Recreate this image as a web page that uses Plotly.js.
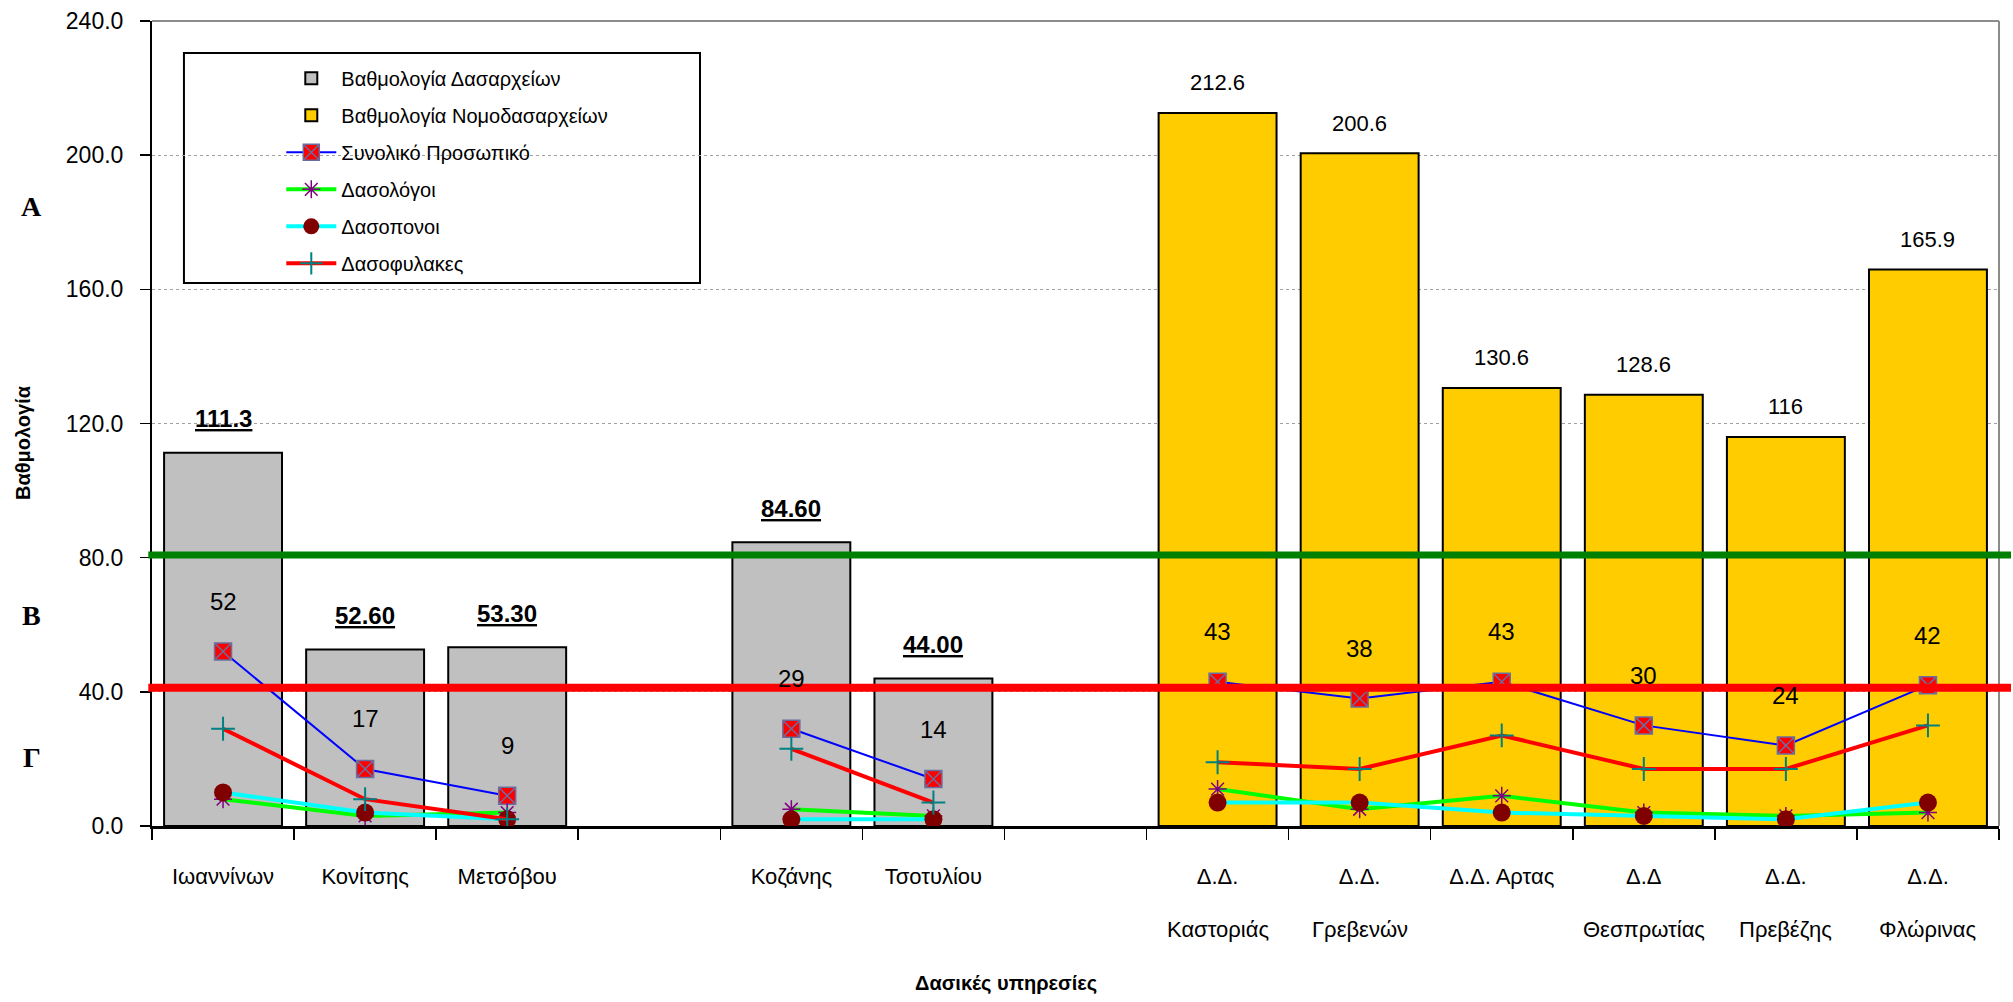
<!DOCTYPE html>
<html>
<head>
<meta charset="utf-8">
<script src="https://cdn.plot.ly/plotly-3.0.1.min.js"></script>
<style>html,body{margin:0;padding:0;background:#fff;}#chart{width:2013px;height:1002px;}</style>
</head>
<body>
<div id="chart"></div>
<script>
// ---- data ----
var categories = ['Ιωαννίνων','Κονίτσης','Μετσόβου','gap1','Κοζάνης','Τσοτυλίου','gap2',
  'Δ.Δ. Καστοριάς','Δ.Δ. Γρεβενών','Δ.Δ. Αρτας','Δ.Δ Θεσπρωτίας','Δ.Δ. Πρεβέζης','Δ.Δ. Φλώρινας'];
var tickLine1 = ['Ιωαννίνων','Κονίτσης','Μετσόβου','','Κοζάνης','Τσοτυλίου','',
  'Δ.Δ.','Δ.Δ.','Δ.Δ. Αρτας','Δ.Δ','Δ.Δ.','Δ.Δ.'];
var tickLine2 = ['','','','','','','','Καστοριάς','Γρεβενών','','Θεσπρωτίας','Πρεβέζης','Φλώρινας'];

var dasarxeia = [111.3, 52.6, 53.3, null, 84.6, 44.0, null, null, null, null, null, null, null];
var dasarxeiaLabels = ['111.3','52.60','53.30','','84.60','44.00','','','','','','',''];
var nomodasarxeia = [null, null, null, null, null, null, null, 212.6, 200.6, 130.6, 128.6, 116, 165.9];
var nomodasarxeiaLabels = ['','','','','','','','212.6','200.6','130.6','128.6','116','165.9'];

var synoliko   = [52, 17, 9, null, 29, 14, null, 43, 38, 43, 30, 24, 42];
var dasologoi  = [8, 3, 4, null, 5, 3, null, 11, 5, 9, 4, 3, 4];
var dasoponoi  = [10, 4, 2, null, 2, 2, null, 7, 7, 4, 3, 2, 7];
var dasofylakes= [29, 8, 2, null, 23, 7, null, 19, 17, 27, 17, 17, 30];

var seriesNames = ['Βαθμολογία Δασαρχείων','Βαθμολογία Νομοδασαρχείων','Συνολικό Προσωπικό',
  'Δασολόγοι','Δασοπονοι','Δασοφυλακες'];
var levelA = 80.8;   // green threshold
var levelB = 41.2;   // red threshold
var zoneLabels = ['Α','Β','Γ'];
var yTitle = 'Βαθμολογία';
var xTitle = 'Δασικές υπηρεσίες';

// ---- styles ----
var SANS = '"Liberation Sans", Arial, sans-serif';
var nCat = categories.length;

var traces = [
  {type:'bar', name:seriesNames[0], x:categories, y:dasarxeia, legendgroup:'g0',
   marker:{color:'#C0C0C0', line:{color:'#000', width:2}}},
  {type:'bar', name:seriesNames[1], x:categories, y:nomodasarxeia, legendgroup:'g1',
   marker:{color:'#FFCC00', line:{color:'#000', width:2}}},
  {type:'scatter', mode:'lines+markers', name:seriesNames[2], x:categories, y:synoliko, legendgroup:'g2',
   line:{color:'#0000FF', width:2}, connectgaps:false,
   marker:{symbol:'square-x', size:17, color:'#FF0000', line:{color:'#6A6E9E', width:1.5}}},
  {type:'scatter', mode:'lines+markers', name:seriesNames[3], x:categories, y:dasologoi, legendgroup:'g3',
   line:{color:'#00FF00', width:4}, connectgaps:false,
   marker:{symbol:'asterisk-open', size:15, color:'#800080', line:{color:'#800080', width:1.5}}},
  {type:'scatter', mode:'lines+markers', name:seriesNames[4], x:categories, y:dasoponoi, legendgroup:'g4',
   line:{color:'#00FFFF', width:4}, connectgaps:false,
   marker:{symbol:'circle', size:18, color:'#800000', line:{width:0}}},
  {type:'scatter', mode:'lines+markers', name:seriesNames[5], x:categories, y:dasofylakes, legendgroup:'g5',
   line:{color:'#FF0000', width:4}, connectgaps:false,
   marker:{symbol:'cross-thin-open', size:17, color:'#008080', line:{color:'#008080', width:2}}}
];

var annotations = [];
categories.forEach(function(c, i){
  if (dasarxeia[i] !== null) {
    annotations.push({x:c, y:dasarxeia[i], xref:'x', yref:'y', text:'<b><u>'+dasarxeiaLabels[i]+'</u></b>',
      showarrow:false, yanchor:'middle', yshift:34, font:{family:SANS, size:24, color:'#000'}});
  }
  if (nomodasarxeia[i] !== null) {
    annotations.push({x:c, y:nomodasarxeia[i], xref:'x', yref:'y', text:nomodasarxeiaLabels[i],
      showarrow:false, yanchor:'middle', yshift:30, font:{family:SANS, size:22, color:'#000'}});
  }
  if (synoliko[i] !== null) {
    annotations.push({x:c, y:synoliko[i], xref:'x', yref:'y', text:String(synoliko[i]),
      showarrow:false, yanchor:'middle', yshift:50, font:{family:SANS, size:24, color:'#000'}});
  }
  if (tickLine2[i]) {
    annotations.push({x:(i+0.5)/nCat, y:-0.129, xref:'paper', yref:'paper', text:tickLine2[i],
      showarrow:false, xanchor:'center', yanchor:'middle', font:{family:SANS, size:22, color:'#000'}});
  }
});
// zone letters
var zoneY = [0.769, 0.262, 0.0845];
zoneLabels.forEach(function(t, i){
  annotations.push({x:-0.065, y:zoneY[i], xref:'paper', yref:'paper', text:'<b>'+t+'</b>',
    showarrow:false, xanchor:'center', yanchor:'middle',
    font:{family:'"Liberation Serif", "Times New Roman", serif', size:28, color:'#000'}});
});
// axis titles
annotations.push({x:-0.0698, y:0.4758, xref:'paper', yref:'paper', text:'<b>'+yTitle+'</b>',
  textangle:-90, showarrow:false, xanchor:'center', yanchor:'middle',
  font:{family:SANS, size:20, color:'#000'}});
annotations.push({x:0.4624, y:-0.195, xref:'paper', yref:'paper', text:'<b>'+xTitle+'</b>',
  showarrow:false, xanchor:'center', yanchor:'middle',
  font:{family:SANS, size:20, color:'#000'}});

var shapes = [
  {type:'line', xref:'paper', yref:'paper', x0:0, x1:1, y0:1, y1:1, line:{color:'#8C8C8C', width:2}, layer:'below'},
  {type:'line', xref:'paper', yref:'paper', x0:1, x1:1, y0:0, y1:1, line:{color:'#8C8C8C', width:2}, layer:'below'},
  {type:'rect', xref:'paper', yref:'paper', x0:0.0173, x1:0.2967, y0:0.6745, y1:0.9603,
   fillcolor:'#FFFFFF', line:{color:'#000', width:2}, layer:'between'},
  {type:'line', xref:'paper', yref:'y', x0:-0.002, x1:1.0065, y0:levelA, y1:levelA, line:{color:'#008000', width:7}, layer:'above'},
  {type:'line', xref:'paper', yref:'y', x0:-0.002, x1:1.0065, y0:levelB, y1:levelB, line:{color:'#FF0000', width:8}, layer:'above'}
];

var layout = {
  width:2013, height:1002,
  margin:{l:152, r:14, t:21, b:176, pad:0},
  paper_bgcolor:'#FFFFFF', plot_bgcolor:'#FFFFFF',
  barmode:'overlay', bargap:0.17,
  showlegend:true,
  legend:{x:0.07, y:0.953, xanchor:'left', yanchor:'top', bgcolor:'rgba(0,0,0,0)', borderwidth:0,
    font:{family:SANS, size:20, color:'#000'}, itemwidth:50, traceorder:'grouped', tracegroupgap:8},
  font:{family:SANS, color:'#000'},
  xaxis:{type:'category', categoryorder:'array', categoryarray:categories, range:[-0.5, nCat-0.5], autorange:false,
    tickmode:'array', tickvals:categories, ticktext:tickLine1, tickson:'boundaries',
    ticks:'outside', ticklen:11, tickwidth:1.5, tickcolor:'#000',
    showline:true, linecolor:'#000', linewidth:3, showgrid:false, zeroline:false,
    tickfont:{family:SANS, size:22, color:'#000'}, ticklabelstandoff:29, fixedrange:true},
  yaxis:{range:[0,240], autorange:false, dtick:40, tick0:0, tickformat:'.1f',
    ticks:'outside', ticklen:10, tickwidth:1.5, tickcolor:'#000',
    showline:true, linecolor:'#000', linewidth:2, zeroline:false,
    showgrid:true, gridcolor:'#A0A0A0', gridwidth:1, griddash:'dot',
    tickfont:{family:SANS, size:23, color:'#000'}, ticklabelstandoff:12, fixedrange:true},
  shapes:shapes,
  annotations:annotations
};

Plotly.newPlot('chart', traces, layout, {displayModeBar:false, staticPlot:true});
</script>
</body>
</html>
